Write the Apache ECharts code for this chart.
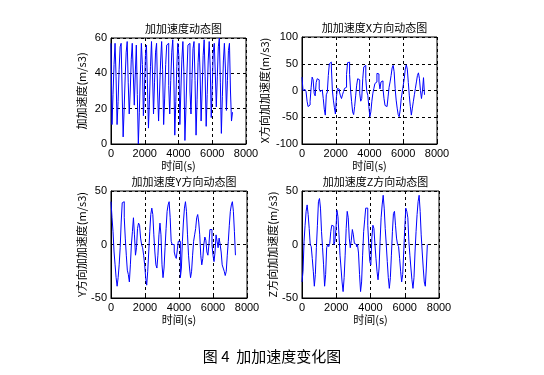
<!DOCTYPE html>
<html>
<head>
<meta charset="utf-8">
<title>加加速度变化图</title>
<script src="https://cdn.jsdelivr.net/npm/echarts@6/dist/echarts.min.js"></script>
<style>
  html, body { margin: 0; padding: 0; background: #fff; }
  #chart { width: 544px; height: 375px; }
</style>
</head>
<body>
<div id="chart"></div>
<script>
// sample interval (s)
const dt = 60;

const xTicks = [0, 2000, 4000, 6000, 8000];

// 加加速度 (total)
const jerkTotal = [
  57, 11, 28, 45, 57, 38,
  11, 24, 42, 55, 57, 30,
  4, 20, 38, 52, 58, 35,
  17, 30, 48, 57, 40,
  22, 40, 56, 28,
  0, 18, 40, 57, 45,
  16, 30, 50, 56, 34,
  9, 25, 44, 58, 40,
  17, 35, 52, 57, 30,
  13, 30, 47, 58, 42,
  11, 26, 45, 56, 57, 33,
  17, 36, 52, 59, 40,
  5, 24, 44, 57, 50,
  11, 30, 48, 58, 41,
  2, 20, 40, 56, 57, 30,
  17, 37, 54, 58, 36,
  5, 25, 46, 57, 40,
  13, 30, 50, 59, 38,
  10, 28, 47, 58, 43,
  15, 33, 52, 57, 40,
  21, 38, 55, 60, 35,
  6, 27, 47, 57, 43,
  19, 36, 53, 57, 30, 13, 18
];

// X 方向
const jerkX = [
  25, 0, 2, 0, -2, -20, -30, -27, -20, 5,
  25, 20, -5, -10, 15, 22, 20, 3, -2, 1,
  -2, -15, -35, -46, -8, -3, 28, 50, 53, 44,
  0, -18, -32, -44, -12, 4, 2, -3, -10, -15,
  -8, -2, 4, 6, 30, 52, 53, 30, 0, -21,
  -40, -45, -30, -10, 10, 22, 20, -5, -20, -15,
  22, 44, 47, 22, -2, -9, -30, -49, -40, -20,
  -5, 4, 13, 16, 32, 31, 16, 3, 16, 18,
  3, -15, -28, -30, -33, -12, 6, 16, 28, 42,
  47, 35, 4, -18, -33, -45, -49, -36, -15, -3,
  10, 22, 40, 48, 40, 15, -10, -30, -46, -33,
  -20, -8, 4, 16, 28, 33, 22, 0, -15, 0,
  24, -8
];

// Y 方向
const jerkY = [
  40, 25, 12, -7, -19, -31, -39, -31, -19, -3,
  21, 39, 40, 25, 6, -10, -24, -28, -35, -19,
  0, 12, 25, 9, -10, -3, 15, 20, 18, 6,
  0, -3, -10, -19, -31, -38, -25, -7, 12, 28,
  34, 28, 9, -7, -19, -22, -10, 9, 20, 9,
  -19, -31, -22, -3, 15, 31, 37, 40, 25, 3,
  0, 0, -7, -11, -13, -5, 3, 3, -31, -22,
  3, 21, 34, 40, 31, 9, -10, -22, -31, -25,
  -10, 3, 9, 15, 25, 28, 21, 9, -10, -19,
  -13, 0, 7, 4, -7, -10, 0, 14, 14, 0,
  -10, -16, -7, 9, 3, -3, 6, 0, -7, -19,
  -22, -25, -29, -25, -10, 3, 18, 31, 37, 40,
  31, 12, -10
];

// Z 方向
const jerkZ = [
  -35, -25, 3, 18, 31, 37, 28, 15, 0, -2,
  -13, -25, -39, -28, -3, 18, 40, 43, 34, 12,
  -3, -19, -39, -28, -3, 0, -2, 1, 12, 18,
  17, 0, 3, 14, 32, 26, 9, -10, -22, -35,
  -44, -31, -10, 15, 31, 25, 6, -3, 4, 14,
  9, 1, 0, -2, 0, -8, -28, -44, -35, -10,
  12, 23, 34, 34, 18, 0, -16, -19, 6, 18,
  15, 0, -13, -25, -33, -22, 3, 25, 37, 46,
  34, 15, 0, -16, -31, -41, -31, -10, 12, 29,
  31, 18, 6, 0, -2, -13, -25, -35, -28, -7,
  15, 34, 31, 25, 3, -10, -22, -33, -41, -31,
  -7, 12, 28, 40, 46, 31, 9, -7, -22, -35,
  -39, -22, 0
];

function toPairs(values) {
  return values.map((v, i) => [i * dt, v]);
}

const chart = echarts.init(document.getElementById('chart'), null, { renderer: 'canvas' });

const tickFont = { color: '#000', fontFamily: 'Liberation Sans, Arial, sans-serif', fontSize: 11 };
const cjkFont = 'Noto Sans CJK SC, sans-serif';

const panels = [
  { title: '加加速度动态图', yName: '加加速度(m/s3)', data: jerkTotal, min: 0, max: 60, interval: 20,
    grid: { left: 111, top: 38, width: 135, height: 106 }, nameGap: 24 },
  { title: '加加速度X方向动态图', yName: 'X方向加加速度(m/s3)', data: jerkX, min: -100, max: 100, interval: 50,
    grid: { left: 302, top: 37, width: 135, height: 107 }, nameGap: 32 },
  { title: '加加速度Y方向动态图', yName: 'Y方向加加速度(m/s3)', data: jerkY, min: -50, max: 50, interval: 50,
    grid: { left: 111, top: 191, width: 136, height: 107 }, nameGap: 24 },
  { title: '加加速度Z方向动态图', yName: 'Z方向加加速度(m/s3)', data: jerkZ, min: -50, max: 50, interval: 50,
    grid: { left: 302, top: 191, width: 137, height: 107 }, nameGap: 24 }
];

const dashed = { show: true, lineStyle: { color: '#000', type: [3, 3], width: 1 } };

const option = {
  animation: false,
  backgroundColor: '#fff',
  title: panels.map(p => ({
    text: p.title,
    left: p.grid.left + p.grid.width / 2,
    top: p.grid.top - 20,
    textAlign: 'center',
    textStyle: { fontFamily: cjkFont, fontSize: 11, fontWeight: 'normal', color: '#000' }
  })).concat([{
    text: '图 4  加加速度变化图',
    left: 267,
    top: 344,
    textAlign: 'center',
    textStyle: { fontFamily: cjkFont, fontSize: 15, fontWeight: 'normal', color: '#000' }
  }]),
  grid: panels.map(p => Object.assign({ show: true, borderColor: '#000', borderWidth: 1, backgroundColor: '#fff' }, p.grid)),
  xAxis: panels.map((p, i) => ({
    type: 'value',
    gridIndex: i,
    min: xTicks[0],
    max: xTicks[xTicks.length - 1],
    interval: 2000,
    name: '时间(s)',
    nameLocation: 'middle',
    nameGap: 15,
    nameTextStyle: { fontFamily: cjkFont, fontSize: 11, color: '#000' },
    axisLine: { onZero: false, lineStyle: { color: '#000' } },
    axisTick: { inside: true, length: 3, lineStyle: { color: '#000' } },
    axisLabel: Object.assign({ margin: 4, formatter: v => String(v) }, tickFont),
    splitLine: dashed
  })),
  yAxis: panels.map((p, i) => ({
    type: 'value',
    gridIndex: i,
    min: p.min,
    max: p.max,
    interval: p.interval,
    name: p.yName,
    nameLocation: 'middle',
    nameGap: p.nameGap,
    nameTextStyle: { fontFamily: cjkFont, fontSize: 11, color: '#000' },
    axisLine: { onZero: false, lineStyle: { color: '#000' } },
    axisTick: { inside: true, length: 3, lineStyle: { color: '#000' } },
    axisLabel: Object.assign({ margin: 4, formatter: v => String(v) }, tickFont),
    splitLine: dashed
  })),
  series: panels.map((p, i) => ({
    type: 'line',
    xAxisIndex: i,
    yAxisIndex: i,
    data: toPairs(p.data),
    step: 'end',
    showSymbol: false,
    lineStyle: { color: '#0000ff', width: 1 },
    z: 3
  }))
};

chart.setOption(option);
</script>
</body>
</html>
